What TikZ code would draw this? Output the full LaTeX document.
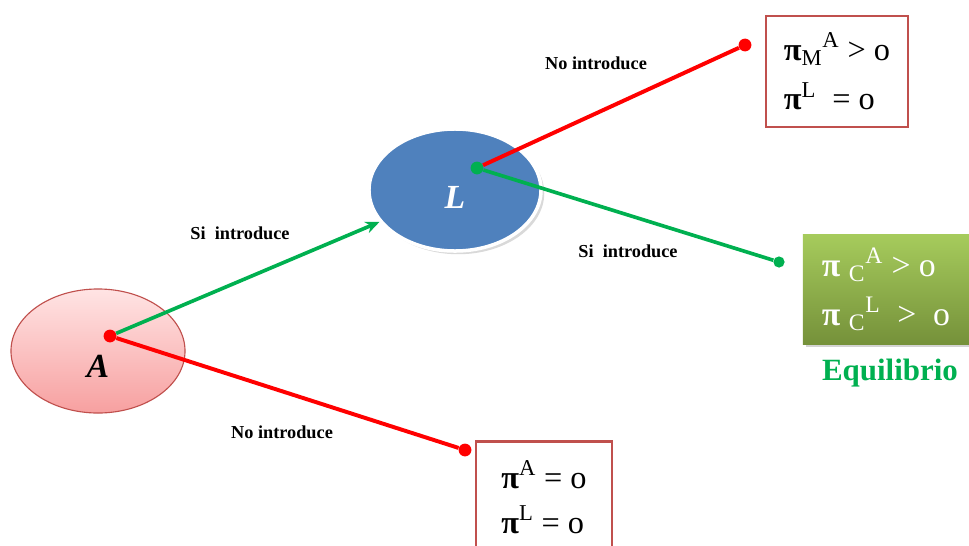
\documentclass[tikz,border=0pt]{standalone}
\usepackage{fontspec}
\setmainfont{Liberation Serif}
\usetikzlibrary{arrows.meta, positioning, shapes.geometric, shadows}
\definecolor{edgered}{HTML}{C0504D}
\definecolor{nodeblue}{HTML}{4F81BD}
\definecolor{linered}{HTML}{FF0000}
\definecolor{linegreen}{HTML}{00B050}
\definecolor{greentop}{HTML}{A6CB5C}
\definecolor{greenbot}{HTML}{75913A}
\definecolor{softpink}{HTML}{FFE4E4}
\definecolor{deeppink}{HTML}{F7A0A0}
\newcommand{\bpi}{{\bfseries π}}

\begin{document}
\begin{tikzpicture}[
    x=0.025cm, y=-0.025cm,
    every node/.style={font=\bfseries},
    player/.style={ellipse, minimum width=4.35cm, minimum height=3.1cm, inner sep=0pt},
    payoff/.style={rectangle, draw=edgered, line width=1.8pt, fill=white, align=left, font=\fontsize{23}{35}\selectfont},
    dotred/.style={circle, fill=linered, inner sep=0pt, minimum size=0.32cm},
    dotgreen/.style={circle, fill=linegreen, inner sep=0pt, minimum size=0.32cm},
    move/.style={font=\bfseries\fontsize{13}{15}\selectfont},
    noline/.style={draw=linered, line width=2.8pt},
    siline/.style={draw=linegreen, line width=2.6pt},
    arrow/.style={-{Stealth[length=0.35cm, width=0.3cm]}}
]
\useasboundingbox (0,0) rectangle (969,546);
\clip (0,0) rectangle (969,546);

\node[player, draw=edgered, thick, top color=softpink, bottom color=deeppink] (A) at (98,351) {};
\node[player, minimum width=4.3cm, minimum height=3.05cm, fill=nodeblue, draw=white, line width=2.5pt, drop shadow={opacity=0.3}] (L) at (455,190) {};
\node[font=\bfseries\itshape\fontsize{24}{26}\selectfont] (Alabel) at (98,366) {A};
\node[font=\bfseries\itshape\fontsize{24}{26}\selectfont, text=white] (Llabel) at (455,197) {L};

\node[payoff, minimum width=3.55cm, minimum height=2.78cm] (pay1) at (837,71.5) {\bpi\textsubscript{M}\textsuperscript{A} > o\\\bpi\textsuperscript{L}\ \ = o};
\node[rectangle, minimum width=4.15cm, minimum height=2.73cm, top color=greentop, bottom color=greenbot, drop shadow={opacity=0.35}, text=white, align=left, font=\fontsize{24}{35}\selectfont] (pay2) at (886,289.5) {\bpi\ \textsubscript{C}\textsuperscript{A} > o\\\bpi\ \textsubscript{C}\textsuperscript{L}\ \ > \ o};
\node[text=linegreen, font=\bfseries\fontsize{22}{24}\selectfont] (eq) at (890,373) {Equilibrio};
\node[payoff, minimum width=3.4cm, minimum height=2.8cm, anchor=north, font=\fontsize{23}{32}\selectfont] (pay3) at (544,440) {\bpi\textsuperscript{A} = o\\\bpi\textsuperscript{L} = o};

\node[dotred] (a0) at (110,336) {};
\node[dotgreen] (l0) at (477,168) {};
\node[dotred] (n1) at (465,450) {};
\node[dotred] (n2) at (745,45) {};
\node[dotgreen, minimum size=0.28cm] (s2) at (779,262) {};

\draw[siline, arrow] (a0) -- (L);
\draw[noline] (a0) -- (n1);
\draw[noline] (l0) -- (n2);
\draw[siline] (l0) -- (s2);

\node[move] (m1) at (240,233) {Si\ \ introduce};
\node[move] (m2) at (282,432) {No introduce};
\node[move] (m3) at (596,63) {No introduce};
\node[move] (m4) at (628,251) {Si\ \ introduce};
\end{tikzpicture}
\end{document}
